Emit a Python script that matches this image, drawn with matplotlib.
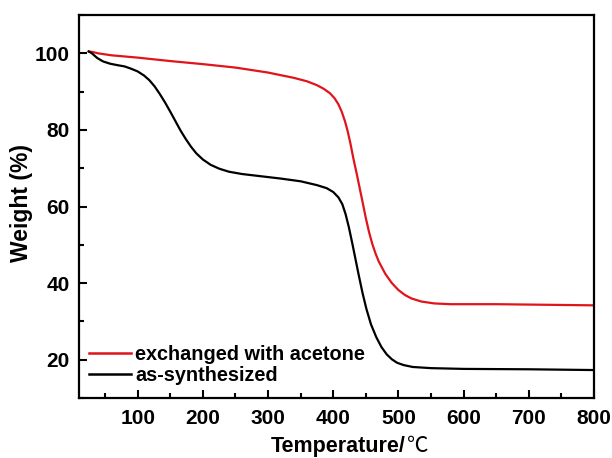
import matplotlib
matplotlib.use("Agg")
import matplotlib.pyplot as plt
from matplotlib.ticker import MultipleLocator

plt.rcParams['font.family'] = ['Liberation Sans', 'DejaVu Sans']
plt.rcParams['font.weight'] = 'bold'

# TGA curves: temperature (°C) vs remaining weight (%)
temp_acetone = [25, 30, 40, 60, 100, 150, 200, 250, 300, 340, 360, 375, 385, 395,
                402, 408, 413, 418, 422, 426, 431, 436, 440, 445, 450, 455, 460,
                465, 470, 480, 490, 500, 510, 520, 535, 555, 580, 600, 650, 700,
                750, 800]
weight_acetone = [100.5, 100.4, 100.0, 99.5, 98.9, 98.0, 97.2, 96.3, 95.0, 93.6,
                  92.7, 91.7, 90.8, 89.6, 88.3, 86.7, 84.8, 82.3, 79.8, 76.8, 72.5,
                  68.6, 65.3, 61.2, 57.0, 53.3, 50.2, 47.7, 45.6, 42.4, 40.0, 38.2,
                  36.9, 36.0, 35.2, 34.7, 34.5, 34.5, 34.5, 34.4, 34.3, 34.2]

temp_synth = [25, 30, 38, 47, 58, 70, 80, 90, 100, 110, 118, 126, 134, 142, 150,
              158, 166, 174, 182, 190, 200, 212, 225, 240, 260, 290, 320, 350, 375,
              390, 400, 408, 414, 419, 424, 429, 434, 439, 445, 451, 458, 466, 474,
              482, 490, 498, 508, 522, 550, 600, 700, 800]
weight_synth = [100.5, 100.0, 98.8, 97.9, 97.3, 96.9, 96.6, 96.0, 95.3, 94.2, 93.0,
                91.4, 89.4, 87.2, 84.8, 82.3, 79.8, 77.6, 75.6, 73.9, 72.3, 70.9,
                69.9, 69.1, 68.5, 67.9, 67.3, 66.6, 65.6, 64.8, 63.8, 62.4, 60.6,
                58.0, 54.6, 50.6, 46.4, 42.2, 37.4, 33.2, 29.2, 25.9, 23.3, 21.4,
                20.1, 19.2, 18.6, 18.1, 17.8, 17.6, 17.5, 17.3]

series_labels = ["exchanged with acetone", "as-synthesized"]
series_colors = ["#e0141a", "#000000"]

fig = plt.figure(figsize=(6.12, 4.58), dpi=100)
ax = fig.add_axes([0.129, 0.131, 0.8416, 0.836])

ax.plot(temp_acetone, weight_acetone, color=series_colors[0], lw=1.6, label=series_labels[0])
ax.plot(temp_synth, weight_synth, color=series_colors[1], lw=1.6, label=series_labels[1])

ax.set_xlim(10, 800)
ax.set_ylim(10, 110)
ax.xaxis.set_minor_locator(MultipleLocator(50))
ax.yaxis.set_minor_locator(MultipleLocator(10))
ax.set_xticks([100, 200, 300, 400, 500, 600, 700, 800])
ax.set_yticks([20, 40, 60, 80, 100])

ax.tick_params(which='both', direction='in', top=False, right=False, width=1.5)
ax.tick_params(which='major', length=6, labelsize=15)
ax.tick_params(axis='x', which='major', pad=8)
ax.tick_params(axis='y', which='major', pad=6.5)
ax.tick_params(which='minor', length=3.5)
for lab in ax.get_xticklabels() + ax.get_yticklabels():
    lab.set_fontweight('bold')
for sp in ax.spines.values():
    sp.set_linewidth(1.6)

ax.set_ylabel("Weight (%)", fontsize=16.5, fontweight='bold')
ax.yaxis.set_label_coords(-0.089, 0.509)

# x label: bold text followed by a light degree-Celsius sign
t_main = ax.text(0, 0, "Temperature/", transform=ax.transAxes, fontsize=15.5,
                 fontweight='bold', ha='left', va='baseline')
t_unit = ax.text(0, 0, "℃", transform=ax.transAxes, fontsize=15.5,
                 fontweight='normal', family=['Noto Sans CJK SC', 'DejaVu Sans'],
                 ha='left', va='baseline')
fig.canvas.draw()
renderer = fig.canvas.get_renderer()
w1 = t_main.get_window_extent(renderer).width
w2 = t_unit.get_window_extent(renderer).width
cx, _ = ax.transAxes.transform((0.524, 0))
_, base_y = ax.transAxes.transform((0, -0.142))
inv = ax.transAxes.inverted()
left = cx - (w1 + w2) / 2
t_main.set_position(inv.transform((left, base_y)))
t_unit.set_position(inv.transform((left + w1 + 1, base_y)))

leg = ax.legend(loc='lower left', bbox_to_anchor=(0.02, 0.035), frameon=False,
                fontsize=14.3, handlelength=2.1, handletextpad=0.22,
                labelspacing=0.1, borderpad=0, borderaxespad=0)
for line in leg.get_lines():
    line.set_linewidth(1.8)

fig.savefig("out.png", dpi=100)
